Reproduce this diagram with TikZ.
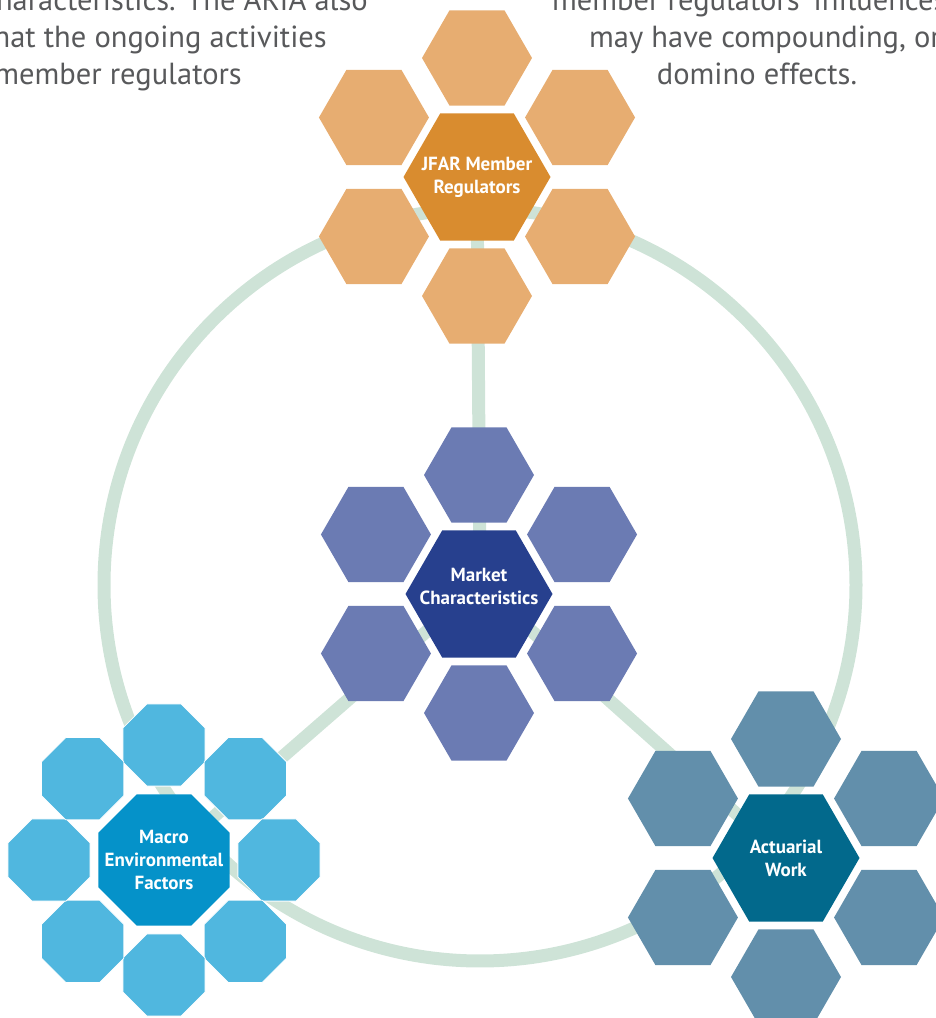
\documentclass[tikz,border=0pt]{standalone}
\usepackage{fontspec}
\setmainfont{PT Sans}
\usetikzlibrary{shapes.geometric}

\definecolor{ringgreen}{HTML}{CEE3D7}
\definecolor{textgray}{HTML}{58595B}
\definecolor{orangelt}{HTML}{E7AD71}
\definecolor{orangedk}{HTML}{D98C2F}
\definecolor{purplelt}{HTML}{6B7BB3}
\definecolor{purpledk}{HTML}{27408E}
\definecolor{steellt}{HTML}{628FAB}
\definecolor{steeldk}{HTML}{02698C}
\definecolor{skylt}{HTML}{50B7DF}
\definecolor{skydk}{HTML}{0592C9}

\begin{document}
\begin{tikzpicture}[
  x=1pt, y=1pt,
  hexhub/.style={regular polygon, regular polygon sides=6, minimum size=147pt, inner sep=0pt, outer sep=0pt},
  hexpetal/.style={regular polygon, regular polygon sides=6, minimum size=110pt, inner sep=0pt, outer sep=0pt},
  octhub/.style={regular polygon, regular polygon sides=8, minimum size=142pt, inner sep=0pt, outer sep=0pt},
  octpetal/.style={regular polygon, regular polygon sides=8, minimum size=89pt, inner sep=0pt, outer sep=0pt, draw=white, line width=0.8pt},
  title/.style={text=white, font=\bfseries\fontsize{19}{23}\selectfont, align=center, inner sep=0pt},
  para/.style={text=textgray, font=\fontsize{30.5}{37}\selectfont, inner sep=0pt},
  ring/.style={draw=ringgreen, line width=13pt},
  spoke/.style={draw=ringgreen, line width=13pt}
]
\useasboundingbox (0,0) rectangle (936,1018);
\clip (0,0) rectangle (936,1018);

% side texts
\node[para, anchor=base east] (lefta) at (368,1007) {characteristics. The ARIA also};
\node[para, anchor=base east] (leftb) at (327,970) {that the ongoing activities};
\node[para, anchor=base east] (leftc) at (242,933) {member regulators};
\node[para, anchor=base west] (righta) at (552,1007) {member regulators' influences};
\node[para, anchor=base west] (rightb) at (589,970) {may have compounding, or};
\node[para, anchor=base] (rightc) at (757,933) {domino effects.};

% ring and spokes
\coordinate (hub) at (480,433);
\path[ring] (hub) circle[radius=376];

\coordinate (jfarpos) at (477,841);
\coordinate (marketpos) at (479,424);
\coordinate (actpos) at (786,160);
\coordinate (macropos) at (164,158);

\path[spoke] (hub) -- (jfarpos);
\path[spoke] (hub) -- (actpos);
\path[spoke] (hub) -- (macropos);

% JFAR member regulators
\node[hexhub, fill=orangedk, label={[title]center:JFAR Member\\Regulators}] (jfar) at (jfarpos) {};
\node[hexpetal, fill=orangelt] (jfar-n) at ([shift={(90:119pt)}]jfar.center) {};
\node[hexpetal, fill=orangelt] (jfar-ne) at ([shift={(30:119pt)}]jfar.center) {};
\node[hexpetal, fill=orangelt] (jfar-se) at ([shift={(-30:119pt)}]jfar.center) {};
\node[hexpetal, fill=orangelt] (jfar-s) at ([shift={(-90:119pt)}]jfar.center) {};
\node[hexpetal, fill=orangelt] (jfar-sw) at ([shift={(-150:119pt)}]jfar.center) {};
\node[hexpetal, fill=orangelt] (jfar-nw) at ([shift={(150:119pt)}]jfar.center) {};

% market characteristics
\node[hexhub, fill=purpledk, label={[title, yshift=8pt]center:Market\\Characteristics}] (market) at (marketpos) {};
\node[hexpetal, fill=purplelt] (market-n) at ([shift={(90:119pt)}]market.center) {};
\node[hexpetal, fill=purplelt] (market-ne) at ([shift={(30:119pt)}]market.center) {};
\node[hexpetal, fill=purplelt] (market-se) at ([shift={(-30:119pt)}]market.center) {};
\node[hexpetal, fill=purplelt] (market-s) at ([shift={(-90:119pt)}]market.center) {};
\node[hexpetal, fill=purplelt] (market-sw) at ([shift={(-150:119pt)}]market.center) {};
\node[hexpetal, fill=purplelt] (market-nw) at ([shift={(150:119pt)}]market.center) {};

% actuarial work
\node[hexhub, fill=steeldk, label={[title]center:Actuarial\\Work}] (act) at (actpos) {};
\node[hexpetal, fill=steellt] (act-n) at ([shift={(90:119pt)}]act.center) {};
\node[hexpetal, fill=steellt] (act-ne) at ([shift={(30:119pt)}]act.center) {};
\node[hexpetal, fill=steellt] (act-se) at ([shift={(-30:119pt)}]act.center) {};
\node[hexpetal, fill=steellt] (act-s) at ([shift={(-90:119pt)}]act.center) {};
\node[hexpetal, fill=steellt] (act-sw) at ([shift={(-150:119pt)}]act.center) {};
\node[hexpetal, fill=steellt] (act-nw) at ([shift={(150:119pt)}]act.center) {};

% macro environmental factors
\node[octhub, fill=skydk, label={[title]center:Macro\\Environmental\\Factors}] (macro) at (macropos) {};
\node[octpetal, fill=skylt] (macro-n) at ([shift={(90:115pt)}]macro.center) {};
\node[octpetal, fill=skylt] (macro-ne) at ([shift={(45:115pt)}]macro.center) {};
\node[octpetal, fill=skylt] (macro-e) at ([shift={(0:115pt)}]macro.center) {};
\node[octpetal, fill=skylt] (macro-se) at ([shift={(-45:115pt)}]macro.center) {};
\node[octpetal, fill=skylt] (macro-s) at ([shift={(-90:115pt)}]macro.center) {};
\node[octpetal, fill=skylt] (macro-sw) at ([shift={(-135:115pt)}]macro.center) {};
\node[octpetal, fill=skylt] (macro-w) at ([shift={(180:115pt)}]macro.center) {};
\node[octpetal, fill=skylt] (macro-nw) at ([shift={(135:115pt)}]macro.center) {};

\end{tikzpicture}
\end{document}
